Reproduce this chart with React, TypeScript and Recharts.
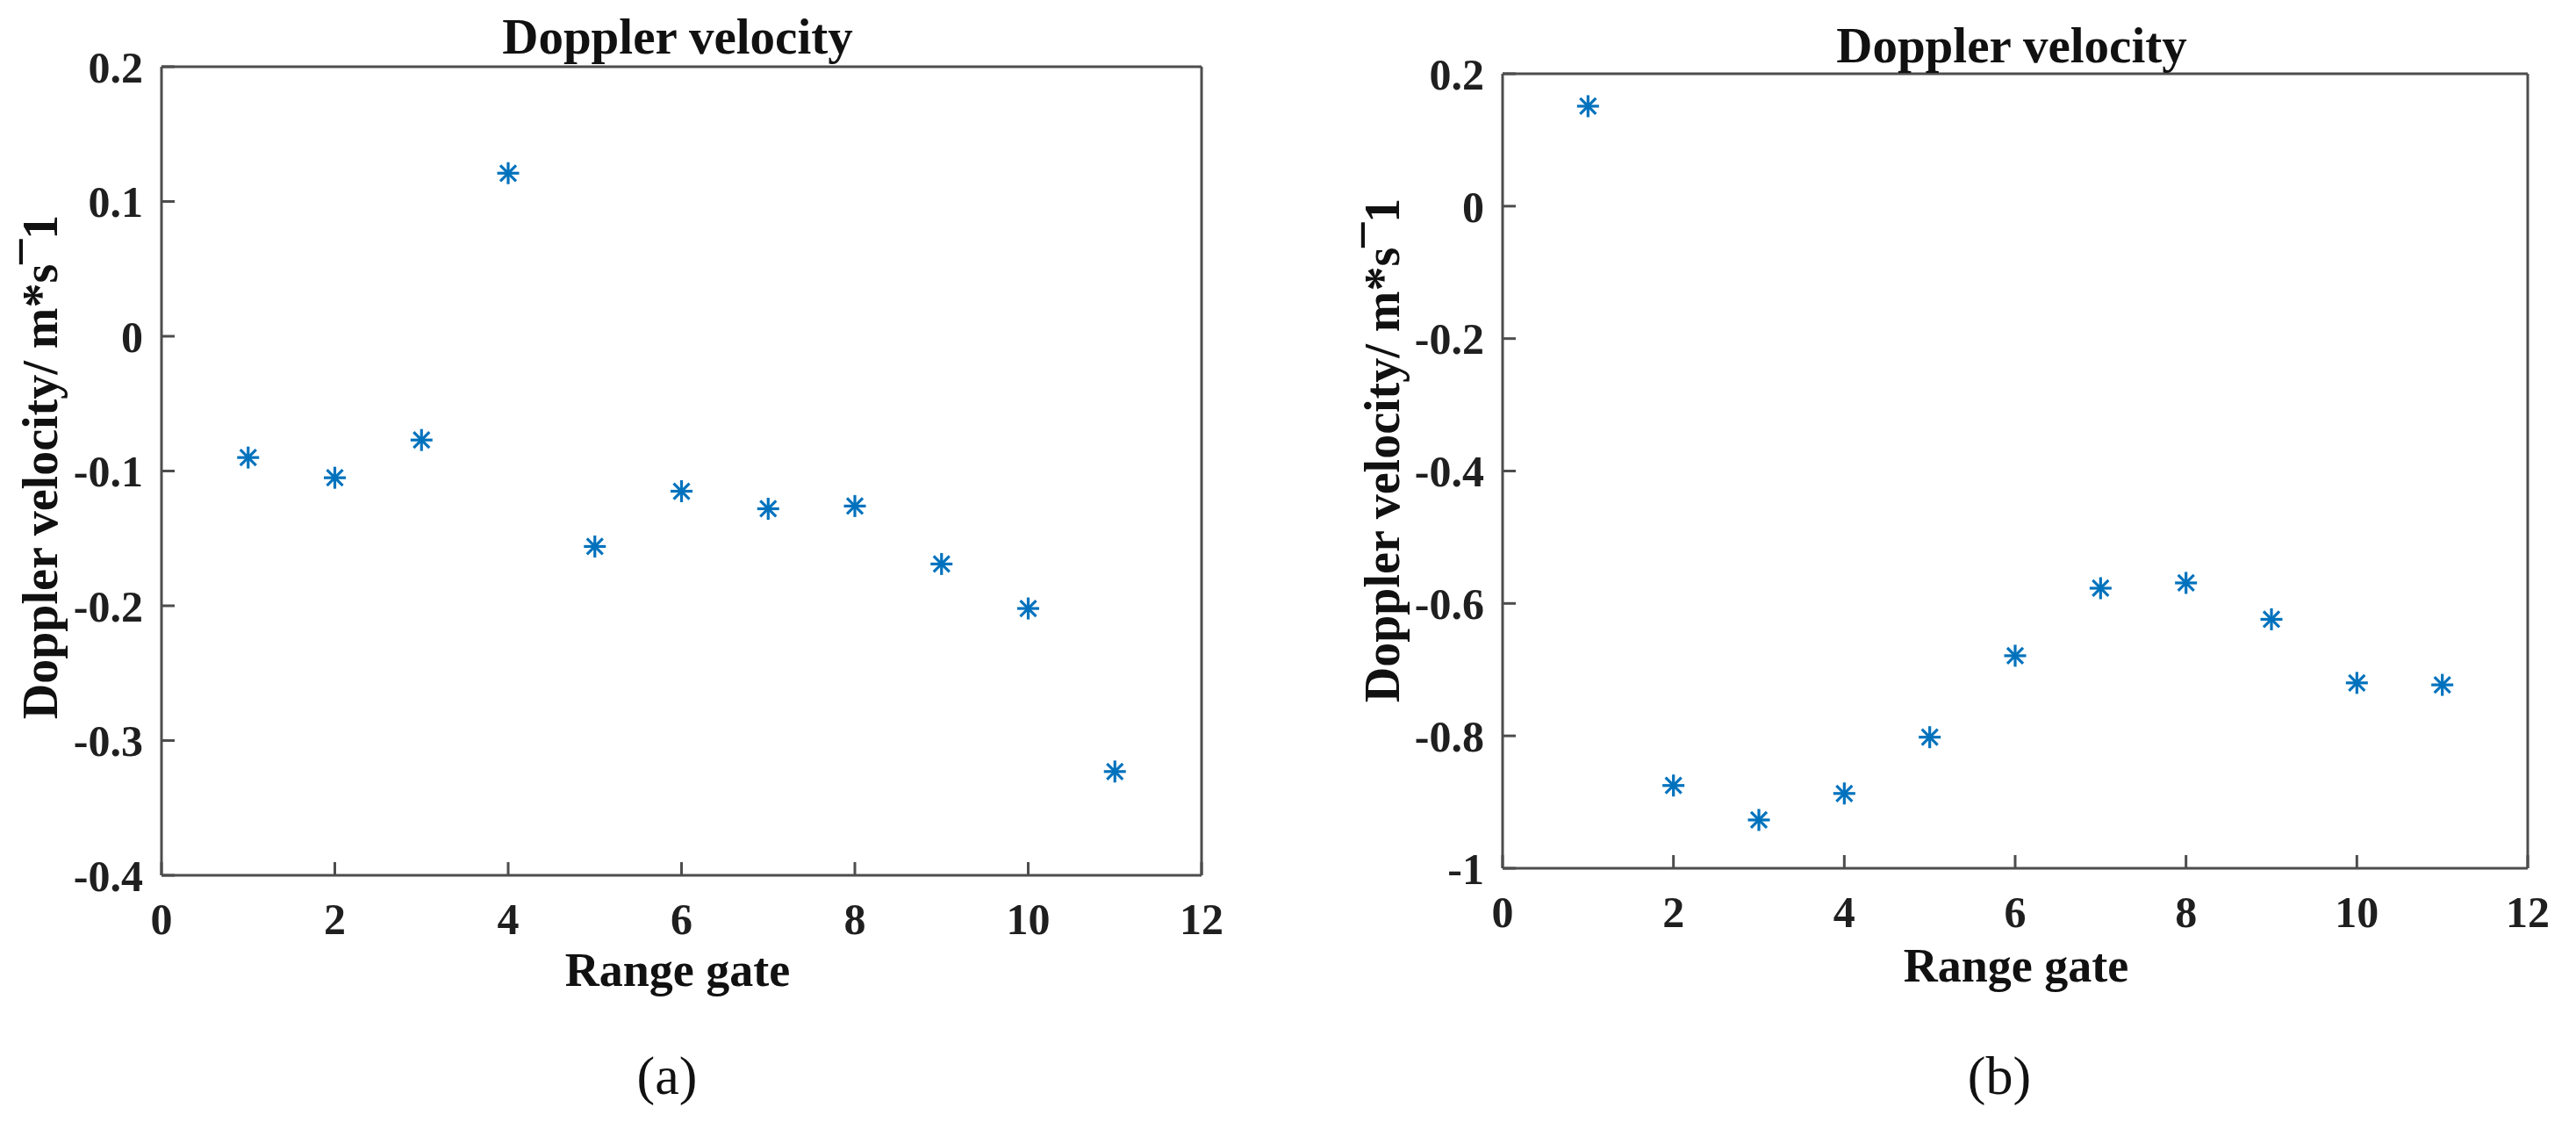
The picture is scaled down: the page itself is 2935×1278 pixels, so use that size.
import React from 'react';
import { ScatterChart, Scatter, XAxis, YAxis } from 'recharts';

const gates = [1, 2, 3, 4, 5, 6, 7, 8, 9, 10, 11];
const velocityA = [-0.09, -0.105, -0.077, 0.121, -0.156, -0.115, -0.128, -0.126, -0.169, -0.202, -0.323];
const velocityB = [0.151, -0.875, -0.927, -0.887, -0.802, -0.679, -0.577, -0.569, -0.624, -0.72, -0.723];

const xTicks = [0, 2, 4, 6, 8, 10, 12];
const yTicksA = [-0.4, -0.3, -0.2, -0.1, 0, 0.1, 0.2];
const yTicksB = [-1, -0.8, -0.6, -0.4, -0.2, 0, 0.2];

const FONT = '"Liberation Serif", "Times New Roman", serif';
const AXIS = '#4d4d4d';
const MARKER = '#0072BD';

const axisLine = { stroke: AXIS, strokeWidth: 3 };
const tickStyle = { fontSize: 50, fontWeight: 700, fontFamily: FONT, fill: '#1f1f1f' };

// matlab style '*' marker
function Asterisk(props: any) {
  const { cx, cy } = props;
  if (cx == null || cy == null) return null;
  const r = 12.5;
  const d = 9;
  return (
    <g stroke={MARKER} strokeWidth={3.2} strokeLinecap="butt">
      <line x1={cx - r} y1={cy} x2={cx + r} y2={cy} />
      <line x1={cx} y1={cy - r} x2={cx} y2={cy + r} />
      <line x1={cx - d} y1={cy - d} x2={cx + d} y2={cy + d} />
      <line x1={cx - d} y1={cy + d} x2={cx + d} y2={cy - d} />
    </g>
  );
}

interface PanelProps {
  values: number[];
  yTicks: number[];
  width: number;
  height: number;
  margin: { top: number; right: number; bottom: number; left: number };
}

function Panel({ values, yTicks, width, height, margin }: PanelProps) {
  const data = gates.map((g, i) => ({ gate: g, v: values[i] }));
  const yDomain = [yTicks[0], yTicks[yTicks.length - 1]];
  return (
    <ScatterChart width={width} height={height} margin={margin}>
      <XAxis
        dataKey="gate"
        type="number"
        domain={[0, 12]}
        ticks={xTicks}
        interval={0}
        height={60}
        axisLine={axisLine}
        tickLine={axisLine}
        tickSize={-15}
        tickMargin={46}
        tick={tickStyle}
      />
      <XAxis
        xAxisId="top"
        orientation="top"
        type="number"
        domain={[0, 12]}
        ticks={xTicks}
        interval={0}
        height={30}
        axisLine={axisLine}
        tickLine={axisLine}
        tickSize={-15}
        tick={false}
      />
      <YAxis
        dataKey="v"
        type="number"
        domain={yDomain}
        ticks={yTicks}
        interval={0}
        width={60}
        axisLine={axisLine}
        tickLine={axisLine}
        tickSize={-15}
        tickMargin={36}
        tick={tickStyle}
      />
      <YAxis
        yAxisId="right"
        orientation="right"
        type="number"
        domain={yDomain}
        ticks={yTicks}
        interval={0}
        width={30}
        axisLine={axisLine}
        tickLine={axisLine}
        tickSize={-15}
        tick={false}
      />
      <Scatter data={data} shape={<Asterisk />} isAnimationActive={false} />
    </ScatterChart>
  );
}

function Caption({ text, cx, top, size = 56, bold = true, rotate = false, cy = 0 }: any) {
  const style: React.CSSProperties = {
    position: 'absolute',
    width: 1000,
    textAlign: 'center',
    fontFamily: FONT,
    fontWeight: bold ? 700 : 400,
    fontSize: size,
    lineHeight: `${size}px`,
    color: '#111',
    whiteSpace: 'nowrap',
    left: cx - 500,
    top: rotate ? cy - size / 2 : top,
    transform: rotate ? 'rotate(-90deg)' : undefined,
    transformOrigin: 'center center',
  };
  return <div style={style}>{text}</div>;
}

export default function App() {
  return (
    <div style={{ position: 'absolute', left: 0, top: 0, width: 2935, height: 1278, background: '#fff' }}>
      <div style={{ position: 'absolute', left: 0, top: 0 }}>
        <Panel
          values={velocityA}
          yTicks={yTicksA}
          width={1450}
          height={1278}
          margin={{ top: 46, right: 51, bottom: 221, left: 124 }}
        />
      </div>
      <div style={{ position: 'absolute', left: 1450, top: 0 }}>
        <Panel
          values={velocityB}
          yTicks={yTicksB}
          width={1485}
          height={1278}
          margin={{ top: 54, right: 25, bottom: 229, left: 202 }}
        />
      </div>

      <Caption text="Doppler velocity" cx={772} top={13} size={57} />
      <Caption text="Doppler velocity" cx={2292} top={23} size={57} />
      <Caption text="Range gate" cx={772} top={1078} size={54} />
      <Caption text="Range gate" cx={2297} top={1073} size={54} />
      <Caption text="Doppler velocity/ m*s¯1" cx={46} cy={532} rotate />
      <Caption text="Doppler velocity/ m*s¯1" cx={1575} cy={513} rotate />
      <Caption text="(a)" cx={760} top={1194} size={62} bold={false} />
      <Caption text="(b)" cx={2278} top={1194} size={62} bold={false} />
    </div>
  );
}
